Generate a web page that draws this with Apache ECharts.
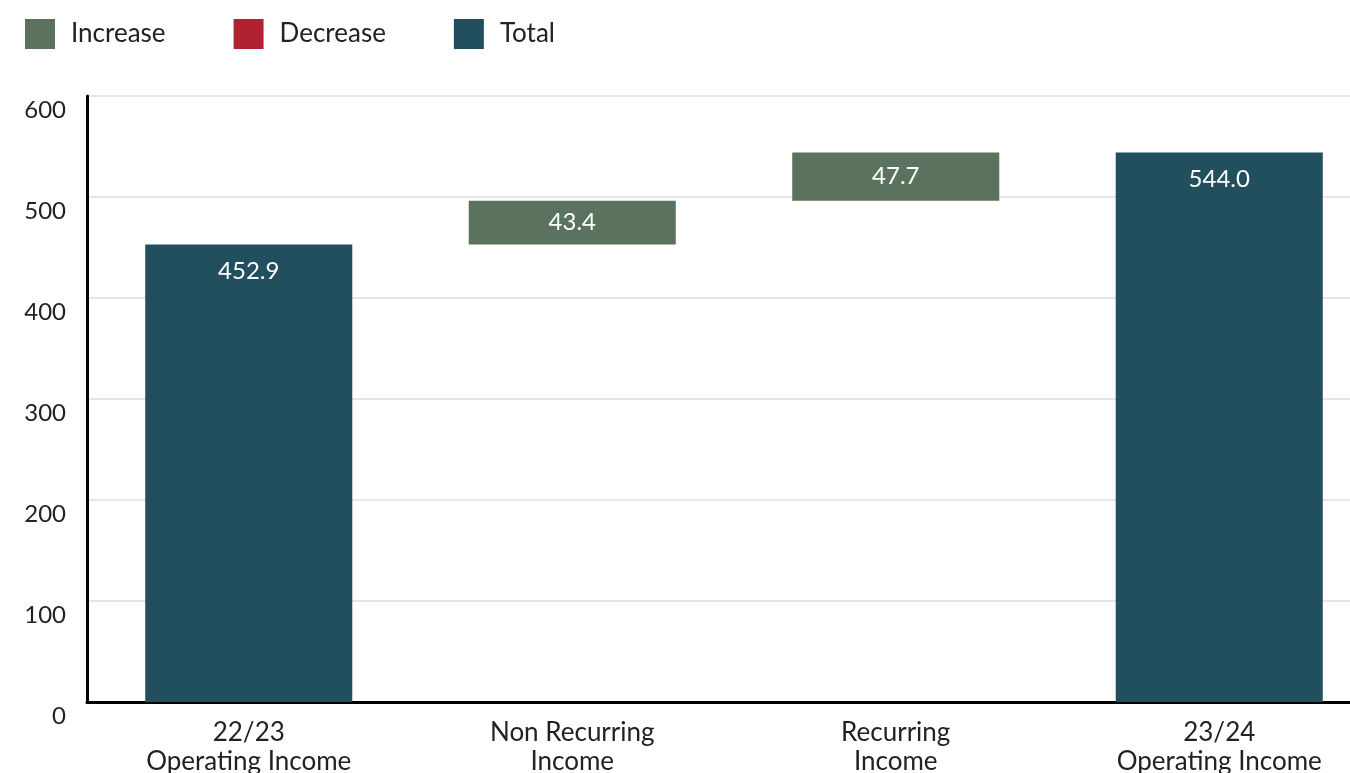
<!DOCTYPE html>
<html><head><meta charset="utf-8">
<script src="https://cdn.jsdelivr.net/npm/echarts@6/dist/echarts.min.js"></script>
<style>html,body{margin:0;padding:0;background:#fff}#c{width:1350px;height:773px}</style>
</head><body><div id="c"></div>
<script>
const categories = ['22/23\nOperating Income', 'Non Recurring\nIncome', 'Recurring\nIncome', '23/24\nOperating Income'];
const baseValues = [0, 452.9, 496.3, 0];
const increaseValues = ['-', 43.4, 47.7, '-'];
const decreaseValues = ['-', '-', '-', '-'];
const totalValues = [452.9, '-', '-', 544.0];
const yTicks = [0, 100, 200, 300, 400, 500, 600];

const FONT = 'Lato';
const chart = echarts.init(document.getElementById('c'), null, {renderer: 'canvas'});
const labelStyle = {show: true, color: '#fff', fontFamily: FONT, fontSize: 24, formatter: p => Number(p.value).toFixed(1)};
chart.setOption({
  animation: false,
  textStyle: {fontFamily: FONT},
  legend: {
    left: 20, top: 14, itemWidth: 30, itemHeight: 30, itemGap: 68, icon: 'rect',
    data: ['Increase', 'Decrease', 'Total'],
    textStyle: {fontFamily: FONT, fontSize: 26, color: '#222', padding: [0, 0, 0, 11]}
  },
  grid: {left: 87, width: 1294, top: 96, height: 606, containLabel: false, outerBoundsMode: 'none'},
  xAxis: {
    type: 'category', data: categories,
    axisLine: {lineStyle: {color: '#000', width: 3}},
    axisTick: {show: false},
    axisLabel: {color: '#222', fontFamily: FONT, fontSize: 26, lineHeight: 29, margin: 16, interval: 0}
  },
  yAxis: {
    type: 'value', min: yTicks[0], max: yTicks[yTicks.length - 1], interval: 100,
    axisLine: {show: true, lineStyle: {color: '#000', width: 3}},
    axisTick: {show: false},
    splitLine: {lineStyle: {color: '#dcdcdc', width: 1.5}},
    axisLabel: {color: '#222', fontFamily: FONT, fontSize: 24, margin: 21, verticalAlign: 'top', padding: [2, 0, 0, 0]}
  },
  series: [
    {name: 'base', type: 'bar', stack: 'w', data: baseValues, itemStyle: {color: 'transparent'}, barWidth: '64%', silent: true},
    {name: 'Increase', type: 'bar', stack: 'w', data: increaseValues, itemStyle: {color: '#5b725e'},
      label: Object.assign({}, labelStyle, {position: 'inside'})},
    {name: 'Decrease', type: 'bar', stack: 'w', data: decreaseValues, itemStyle: {color: '#b02231'},
      label: Object.assign({}, labelStyle, {position: 'inside'})},
    {name: 'Total', type: 'bar', stack: 'w', data: totalValues, itemStyle: {color: '#224f5e'},
      label: Object.assign({}, labelStyle, {position: 'insideTop', distance: 15})}
  ]
});
</script></body></html>
